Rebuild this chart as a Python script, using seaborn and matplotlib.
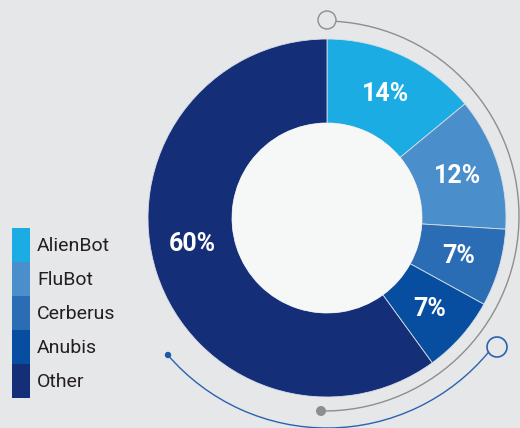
import numpy as np
import matplotlib
matplotlib.use("Agg")
import matplotlib.pyplot as plt
import seaborn as sns
from matplotlib.patches import Arc, Circle, Patch

# ---- data ----
labels = ["AlienBot", "FluBot", "Cerberus", "Anubis", "Other"]
shares = [14, 12, 7, 7, 60]
colors = ["#1aace3", "#4a8fcb", "#2b6db5", "#074ea0", "#142e78"]

BG = "#e6e7e9"
sns.set_style("white")
plt.rcParams["font.family"] = ["Roboto", "DejaVu Sans"]

fig = plt.figure(figsize=(5.2, 4.28), dpi=100, facecolor=BG)
ax = fig.add_axes([0, 0, 1, 1])
ax.set_facecolor(BG)

# donut (pixel-like coordinates, y up)
cx, cy, R, r_in = 327, 210, 179, 95
palette = sns.color_palette(colors)
wedges, texts, autotexts = ax.pie(
    shares, colors=palette, startangle=90, counterclock=False,
    radius=R, center=(cx, cy),
    wedgeprops=dict(width=R - r_in, edgecolor="#d9dee6", linewidth=0.6),
    autopct=lambda p: f"{p:.0f}%", pctdistance=0.765,
    textprops=dict(color="white", fontsize=18, fontweight="bold"))

# nudge the big label a bit lower like the reference
ang = np.deg2rad(-169)
autotexts[-1].set_position((cx + 137 * np.cos(ang), cy + 137 * np.sin(ang)))

ax.add_patch(Circle((cx, cy), r_in, facecolor="#f6f7f7", edgecolor="none", zorder=3))

# decorative arcs
gray = "#8e8e8e"
ax.add_patch(Arc((324, 212), 390, 390, theta1=-90.9, theta2=86.5, color=gray, lw=1))
ax.add_patch(Circle((327, 408), 9, fill=False, edgecolor=gray, lw=1))
ax.add_patch(Circle((321, 17), 5, facecolor=gray, edgecolor="none"))

blue = "#2a62b0"
ax.add_patch(Arc((327, 210), 420, 420, theta1=220.7, theta2=320.5, color=blue, lw=1))
ax.add_patch(Circle((168, 73), 3.2, facecolor="#1f56a5", edgecolor="none"))
ax.add_patch(Circle((497, 81), 10, fill=False, edgecolor=blue, lw=1.2))

ax.set_xlim(0, 520)
ax.set_ylim(0, 428)
ax.set_aspect("equal")
ax.axis("off")

# legend: stacked colour blocks (34 px rows, no gaps)
handles = [Patch(facecolor=c, linewidth=0) for c in colors]
leg = ax.legend(handles, labels, loc="upper left",
                bbox_to_anchor=(12 / 520, 200 / 428), bbox_transform=ax.transAxes,
                frameon=False, fontsize=14, labelspacing=0,
                handlelength=0.93, handleheight=2.313, handletextpad=0.36,
                borderpad=0, borderaxespad=0)
for t in leg.get_texts():
    t.set_color("#231f20")

fig.savefig("out.png", dpi=100, facecolor=BG)
